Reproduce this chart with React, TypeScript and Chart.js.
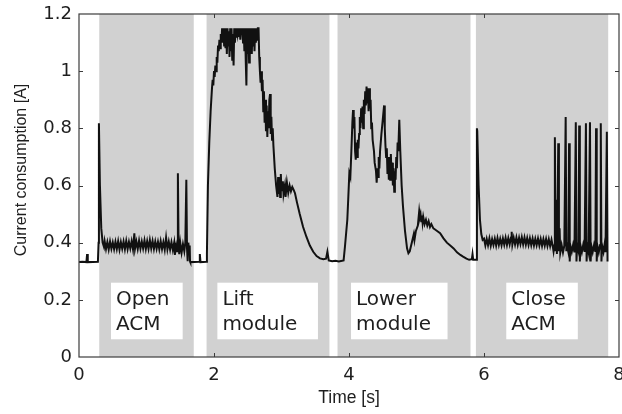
import React, { useEffect, useRef } from "react";
import { Chart, registerables } from "chart.js";

Chart.register(...registerables);

// ---- data ----
const xTicks = [0, 2, 4, 6, 8];
const yTicks = [0, 0.2, 0.4, 0.6, 0.8, 1, 1.2];

const phaseStart = [0.3, 1.89, 3.83, 5.88];
const phaseEnd = [1.7, 3.71, 5.8, 7.84];
const phaseLabels = [["Open", "ACM"], ["Lift", "module"], ["Lower", "module"], ["Close", "ACM"]];
const labelBoxStart = [0.474, 2.05, 4.03, 6.33];
const labelBoxEnd = [1.536, 3.54, 5.46, 7.39];
const labelBoxLow = 0.062;
const labelBoxHigh = 0.26;

const idleStart: number[][] = [
  [0, 0.332], [0.05, 0.333], [0.11, 0.332], [0.12, 0.36], [0.13, 0.332], [0.28, 0.333],
];

const openAcm: number[][] = [
  [0.29, 0.4], [0.295, 0.818], [0.31, 0.6], [0.33, 0.45], [0.35, 0.4], [0.37, 0.385],
  [0.38, 0.405], [0.4, 0.378], [0.42, 0.402], [0.44, 0.376], [0.46, 0.404], [0.48, 0.379],
  [0.5, 0.401], [0.52, 0.377], [0.54, 0.403], [0.56, 0.378], [0.58, 0.405], [0.6, 0.376],
  [0.62, 0.402], [0.64, 0.379], [0.66, 0.404], [0.68, 0.377], [0.7, 0.406], [0.72, 0.378],
  [0.74, 0.403], [0.76, 0.38], [0.78, 0.405], [0.8, 0.377], [0.82, 0.433], [0.83, 0.379],
  [0.85, 0.404], [0.87, 0.378], [0.89, 0.407], [0.91, 0.379], [0.93, 0.404], [0.95, 0.38],
  [0.97, 0.408], [0.99, 0.378], [1.01, 0.405], [1.03, 0.379], [1.05, 0.409], [1.07, 0.38],
  [1.09, 0.406], [1.11, 0.378], [1.13, 0.404], [1.15, 0.379], [1.17, 0.403], [1.19, 0.377],
  [1.21, 0.405], [1.23, 0.378], [1.25, 0.402], [1.27, 0.376], [1.29, 0.418], [1.31, 0.377],
  [1.33, 0.403], [1.35, 0.376], [1.37, 0.402], [1.39, 0.375], [1.41, 0.4], [1.42, 0.357],
  [1.44, 0.39], [1.455, 0.37], [1.465, 0.643], [1.475, 0.4], [1.485, 0.36], [1.5, 0.4],
  [1.52, 0.365], [1.54, 0.395], [1.56, 0.37], [1.575, 0.4], [1.59, 0.62], [1.6, 0.38],
  [1.61, 0.335], [1.62, 0.4], [1.63, 0.37], [1.64, 0.39], [1.645, 0.335], [1.65, 0.332],
];

const idleMiddle: number[][] = [
  [1.78, 0.333], [1.79, 0.36], [1.8, 0.332], [1.89, 0.333],
];

const liftModule: number[][] = [
  [1.895, 0.36], [1.91, 0.6], [1.93, 0.75], [1.95, 0.86], [1.97, 0.94], [1.98, 0.97],
  [1.99, 0.95], [2.0, 1.0], [2.01, 0.98], [2.02, 1.02], [2.03, 1.0], [2.04, 1.05],
  [2.05, 1.03], [2.06, 1.09], [2.07, 1.07], [2.08, 1.11], [2.09, 1.08], [2.1, 1.13],
  [2.11, 1.1], [2.12, 1.15], [2.13, 1.1], [2.14, 1.15], [2.15, 1.09], [2.16, 1.15],
  [2.17, 1.08], [2.18, 1.15], [2.19, 1.06], [2.2, 1.15], [2.21, 1.09], [2.22, 1.14],
  [2.23, 1.05], [2.24, 1.15], [2.25, 1.07], [2.26, 1.15], [2.27, 1.04], [2.28, 1.13],
  [2.29, 1.02], [2.3, 1.15], [2.31, 1.1], [2.32, 1.15], [2.33, 1.12], [2.34, 1.15],
  [2.35, 1.13], [2.36, 1.15], [2.37, 1.12], [2.38, 1.15], [2.39, 1.11], [2.4, 1.15],
  [2.41, 1.13], [2.42, 1.15], [2.43, 1.1], [2.44, 1.15], [2.45, 1.07], [2.46, 1.15],
  [2.47, 1.04], [2.48, 0.95], [2.49, 1.15], [2.5, 1.06], [2.51, 1.15], [2.52, 1.03],
  [2.53, 1.15], [2.54, 1.08], [2.55, 1.15], [2.56, 1.06], [2.57, 1.15], [2.58, 1.09],
  [2.59, 1.15], [2.6, 1.07], [2.61, 1.15], [2.62, 1.1], [2.63, 1.15], [2.64, 1.11],
  [2.65, 1.15], [2.66, 1.15], [2.67, 1.05], [2.68, 1.0], [2.69, 0.96], [2.7, 1.0],
  [2.71, 0.93], [2.72, 0.97], [2.73, 0.86], [2.74, 0.93], [2.75, 0.82], [2.76, 0.9],
  [2.77, 0.79], [2.78, 0.88], [2.79, 0.77], [2.8, 0.86], [2.81, 0.8], [2.82, 0.9],
  [2.83, 0.92], [2.84, 0.78], [2.85, 0.84], [2.86, 0.76], [2.87, 0.8], [2.88, 0.74],
  [2.9, 0.66], [2.92, 0.6], [2.94, 0.56], [2.95, 0.63], [2.96, 0.57], [2.97, 0.62],
  [2.98, 0.56], [2.99, 0.64], [3.0, 0.58], [3.02, 0.615], [3.03, 0.57], [3.05, 0.6],
  [3.06, 0.56], [3.08, 0.61], [3.1, 0.575], [3.12, 0.6], [3.14, 0.58], [3.16, 0.595],
  [3.18, 0.585], [3.2, 0.573], [3.23, 0.54], [3.27, 0.5], [3.32, 0.455], [3.37, 0.42],
  [3.42, 0.39], [3.47, 0.368], [3.52, 0.353], [3.57, 0.345], [3.62, 0.342], [3.66, 0.344],
  [3.68, 0.368], [3.7, 0.338], [3.75, 0.335], [3.8, 0.337], [3.85, 0.334], [3.92, 0.338],
];

const lowerModule: number[][] = [
  [3.94, 0.386], [3.975, 0.48], [3.99, 0.56], [4.005, 0.643], [4.02, 0.63], [4.035, 0.72],
  [4.05, 0.82], [4.06, 0.864], [4.07, 0.8], [4.08, 0.84], [4.09, 0.72], [4.1, 0.69],
  [4.11, 0.75], [4.12, 0.7], [4.13, 0.76], [4.14, 0.73], [4.15, 0.78], [4.16, 0.84],
  [4.17, 0.8], [4.18, 0.87], [4.19, 0.82], [4.2, 0.876], [4.21, 0.8], [4.22, 0.9],
  [4.23, 0.85], [4.24, 0.93], [4.25, 0.88], [4.26, 0.946], [4.27, 0.89], [4.28, 0.94],
  [4.29, 0.86], [4.3, 0.94], [4.31, 0.87], [4.32, 0.9], [4.33, 0.8], [4.34, 0.82],
  [4.35, 0.76], [4.37, 0.72], [4.38, 0.68], [4.4, 0.65], [4.41, 0.61], [4.42, 0.66],
  [4.43, 0.63], [4.44, 0.7], [4.45, 0.66], [4.46, 0.72], [4.48, 0.78], [4.5, 0.83],
  [4.52, 0.88], [4.53, 0.8], [4.54, 0.74], [4.55, 0.7], [4.56, 0.73], [4.57, 0.64],
  [4.58, 0.7], [4.59, 0.62], [4.6, 0.69], [4.61, 0.62], [4.62, 0.71], [4.63, 0.63],
  [4.64, 0.68], [4.65, 0.6], [4.66, 0.66], [4.67, 0.578], [4.68, 0.65], [4.69, 0.62],
  [4.7, 0.7], [4.71, 0.66], [4.72, 0.75], [4.73, 0.72], [4.745, 0.83], [4.76, 0.72],
  [4.78, 0.6], [4.8, 0.526], [4.83, 0.44], [4.86, 0.38], [4.88, 0.363], [4.9, 0.37],
  [4.93, 0.4], [4.96, 0.43], [4.97, 0.41], [4.99, 0.44], [5.02, 0.46], [5.04, 0.51],
  [5.05, 0.49], [5.06, 0.5], [5.07, 0.475], [5.08, 0.495], [5.09, 0.47], [5.1, 0.49],
  [5.12, 0.465], [5.14, 0.48], [5.16, 0.46], [5.18, 0.475], [5.2, 0.455], [5.22, 0.465],
  [5.25, 0.45], [5.28, 0.445], [5.31, 0.44], [5.35, 0.433], [5.4, 0.415], [5.45, 0.4],
  [5.5, 0.39], [5.55, 0.38], [5.6, 0.366], [5.65, 0.357], [5.69, 0.351], [5.74, 0.344],
  [5.78, 0.34], [5.82, 0.342], [5.83, 0.36], [5.84, 0.34], [5.89, 0.34],
];

const closeAcm: number[][] = [
  [5.895, 0.8], [5.9, 0.79], [5.92, 0.6], [5.94, 0.48], [5.96, 0.43], [5.98, 0.41],
  [6.0, 0.414], [6.02, 0.39], [6.04, 0.413], [6.06, 0.391], [6.08, 0.415], [6.1, 0.389],
  [6.12, 0.412], [6.14, 0.392], [6.16, 0.414], [6.18, 0.39], [6.2, 0.416], [6.22, 0.392],
  [6.24, 0.413], [6.26, 0.391], [6.28, 0.415], [6.3, 0.393], [6.32, 0.417], [6.34, 0.392],
  [6.36, 0.416], [6.38, 0.394], [6.4, 0.418], [6.41, 0.438], [6.42, 0.393], [6.44, 0.417],
  [6.46, 0.394], [6.48, 0.418], [6.5, 0.393], [6.52, 0.417], [6.54, 0.395], [6.56, 0.419],
  [6.58, 0.394], [6.6, 0.418], [6.62, 0.393], [6.64, 0.416], [6.66, 0.392], [6.68, 0.415],
  [6.7, 0.391], [6.72, 0.414], [6.74, 0.39], [6.76, 0.413], [6.78, 0.391], [6.8, 0.414],
  [6.82, 0.39], [6.84, 0.413], [6.86, 0.389], [6.88, 0.412], [6.9, 0.39], [6.92, 0.413],
  [6.94, 0.389], [6.96, 0.412], [6.98, 0.388], [7.0, 0.41], [7.02, 0.385], [7.03, 0.37],
  [7.04, 0.39], [7.05, 0.769], [7.06, 0.37], [7.07, 0.55], [7.08, 0.36], [7.09, 0.5],
  [7.1, 0.748], [7.11, 0.37], [7.12, 0.45], [7.13, 0.365], [7.15, 0.392], [7.17, 0.366],
  [7.19, 0.39], [7.21, 0.84], [7.22, 0.37], [7.23, 0.39], [7.25, 0.367], [7.26, 0.748],
  [7.27, 0.334], [7.28, 0.39], [7.3, 0.368], [7.32, 0.392], [7.34, 0.366], [7.36, 0.821],
  [7.37, 0.334], [7.38, 0.39], [7.4, 0.37], [7.41, 0.81], [7.42, 0.334], [7.43, 0.39],
  [7.45, 0.367], [7.47, 0.393], [7.49, 0.368], [7.51, 0.818], [7.52, 0.334], [7.53, 0.39],
  [7.55, 0.366], [7.57, 0.821], [7.58, 0.334], [7.59, 0.39], [7.61, 0.367], [7.63, 0.392],
  [7.65, 0.368], [7.66, 0.8], [7.67, 0.334], [7.68, 0.39], [7.7, 0.366], [7.72, 0.392],
  [7.73, 0.818], [7.74, 0.334], [7.75, 0.39], [7.77, 0.368], [7.79, 0.4], [7.8, 0.367],
  [7.82, 0.788], [7.83, 0.334],
];

const xTitle = "Time [s]";
const yTitle = "Current consumption [A]";

const trace = [...idleStart, ...openAcm, ...idleMiddle, ...liftModule, ...lowerModule, ...closeAcm].map(
  ([x, y]) => ({ x, y })
);

const FRAME = "#3c3c3c";
const TEXT = "#1e1e1e";

const overlayPlugin = {
  id: "phaseOverlay",
  beforeDatasetsDraw(chart: any) {
    const { ctx, chartArea: a, scales } = chart;
    const x = scales.x;
    const y = scales.y;
    ctx.save();
    ctx.fillStyle = "#d1d1d1";
    phaseStart.forEach((s, i) => {
      const x0 = x.getPixelForValue(s);
      const x1 = x.getPixelForValue(phaseEnd[i]);
      ctx.fillRect(x0, a.top, x1 - x0, a.bottom - a.top);
    });
    const yTop = y.getPixelForValue(labelBoxHigh);
    const yBot = y.getPixelForValue(labelBoxLow);
    labelBoxStart.forEach((s, i) => {
      const x0 = x.getPixelForValue(s);
      const x1 = x.getPixelForValue(labelBoxEnd[i]);
      ctx.fillStyle = "#ffffff";
      ctx.fillRect(x0, yTop, x1 - x0, yBot - yTop);
      ctx.fillStyle = TEXT;
      ctx.font = '20px "DejaVu Sans"';
      ctx.textAlign = "left";
      ctx.textBaseline = "alphabetic";
      phaseLabels[i].forEach((line, j) => {
        ctx.fillText(line, x0 + 5, yTop + 22 + j * 25);
      });
    });
    ctx.restore();
  },
  afterDatasetsDraw(chart: any) {
    const { ctx, chartArea: a, scales } = chart;
    const x = scales.x;
    const y = scales.y;
    ctx.save();
    ctx.strokeStyle = FRAME;
    ctx.lineWidth = 1.2;
    ctx.strokeRect(a.left, a.top, a.right - a.left, a.bottom - a.top);
    ctx.lineWidth = 1;
    ctx.beginPath();
    xTicks.slice(1, -1).forEach((t) => {
      const px = Math.round(x.getPixelForValue(t)) + 0.5;
      ctx.moveTo(px, a.bottom);
      ctx.lineTo(px, a.bottom - 4);
      ctx.moveTo(px, a.top);
      ctx.lineTo(px, a.top + 4);
    });
    yTicks.slice(1, -1).forEach((t) => {
      const py = Math.round(y.getPixelForValue(t)) + 0.5;
      ctx.moveTo(a.left, py);
      ctx.lineTo(a.left + 4, py);
      ctx.moveTo(a.right, py);
      ctx.lineTo(a.right - 4, py);
    });
    ctx.stroke();
    // y axis title
    ctx.fillStyle = TEXT;
    ctx.font = '16px "Liberation Sans"';
    ctx.textAlign = "center";
    ctx.textBaseline = "middle";
    ctx.translate(22, 170);
    ctx.rotate(-Math.PI / 2);
    ctx.fillText(yTitle, 0, 0);
    ctx.restore();
  },
};

export default function App() {
  const canvasRef = useRef<HTMLCanvasElement | null>(null);

  useEffect(() => {
    const canvas = canvasRef.current;
    if (!canvas) return;
    const chart = new Chart(canvas, {
      type: "line",
      data: {
        datasets: [
          {
            data: trace,
            borderColor: "#111111",
            borderWidth: 2,
            borderJoinStyle: "miter",
            pointRadius: 0,
            tension: 0,
            fill: false,
          },
        ],
      },
      options: {
        animation: false,
        responsive: true,
        maintainAspectRatio: false,
        parsing: false,
        layout: { padding: { top: 14, right: 3, left: 0, bottom: 0 } },
        plugins: {
          legend: { display: false },
          tooltip: { enabled: false },
        },
        scales: {
          x: {
            type: "linear",
            min: 0,
            max: 8,
            afterBuildTicks: (scale: any) => {
              scale.ticks = xTicks.map((v) => ({ value: v }));
            },
            afterFit: (scale: any) => {
              scale.height = 57;
              scale.paddingLeft = 0;
              scale.paddingRight = 0;
            },
            grid: { display: false, drawTicks: false },
            border: { display: false },
            ticks: {
              padding: 8,
              color: TEXT,
              font: { family: "DejaVu Sans", size: 18 },
              maxRotation: 0,
              autoSkip: false,
              callback: (v: any) => String(v),
            },
            title: {
              display: true,
              text: xTitle,
              color: TEXT,
              font: { family: "Liberation Sans", size: 17.5 },
              padding: { top: 0, bottom: 5 },
            },
          },
          y: {
            type: "linear",
            min: 0,
            max: 1.2,
            afterBuildTicks: (scale: any) => {
              scale.ticks = yTicks.map((v) => ({ value: v }));
            },
            afterFit: (scale: any) => {
              scale.width = 79;
              scale.paddingTop = 0;
              scale.paddingBottom = 0;
            },
            grid: { display: false, drawTicks: false },
            border: { display: false },
            ticks: {
              padding: 7,
              color: TEXT,
              font: { family: "DejaVu Sans", size: 18 },
              autoSkip: false,
              callback: (v: any) => String(v),
            },
          },
        },
      },
      plugins: [overlayPlugin],
    });
    return () => chart.destroy();
  }, []);

  return (
    <div style={{ position: "fixed", left: 0, top: 0, width: 622, height: 414, background: "#fff" }}>
      <canvas ref={canvasRef} />
    </div>
  );
}
